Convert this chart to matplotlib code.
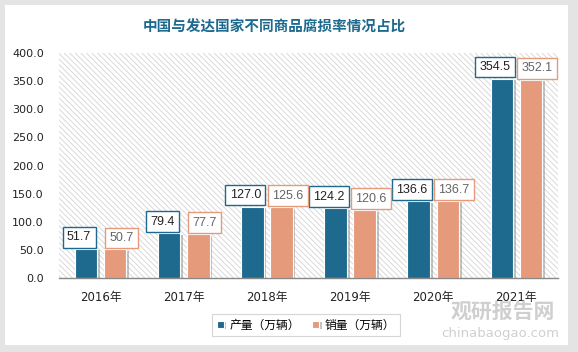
import matplotlib
matplotlib.use('Agg')
import matplotlib.pyplot as plt
import matplotlib.patches as mpatches
import matplotlib.patheffects as pe
import numpy as np

plt.rcParams['font.family'] = ['DejaVu Sans', 'Noto Sans CJK SC']
plt.rcParams['hatch.color'] = '#d4d4d4'
plt.rcParams['hatch.linewidth'] = 0.6

# data ##############################################################
years = ['2016年', '2017年', '2018年', '2019年', '2020年', '2021年']
output = [51.7, 79.4, 127.0, 124.2, 136.6, 354.5]
sales = [50.7, 77.7, 125.6, 120.6, 136.7, 352.1]
series_names = ['产量（万辆）', '销量（万辆）']

blue = '#1d6a8e'
orange = '#e59b7b'

fig = plt.figure(figsize=(5.78, 3.52), dpi=100)
fig.patch.set_facecolor('#e4e4e4')
# white card
card = mpatches.Rectangle((5 / 578, 7 / 352), 563 / 578, 340 / 352, transform=fig.transFigure,
                          facecolor='white', edgecolor='none', zorder=-10)
fig.patches.append(card)

ax = fig.add_axes([59 / 578, 1 - 278 / 352, 499 / 578, 225 / 352])
ax.set_facecolor('white')
bg = mpatches.Rectangle((0, 0), 1, 1, transform=ax.transAxes, facecolor='white',
                        edgecolor='#d4d4d4', linewidth=0, hatch='\\' * 6, zorder=0)
ax.add_patch(bg)

x = np.arange(len(years))
w = 0.27
off = 0.175
shadow = [pe.SimplePatchShadow(offset=(2, -1), shadow_rgbFace='#888888', alpha=0.5), pe.Normal()]
b1 = ax.bar(x - off, output, w, color=blue, edgecolor='white', linewidth=0.8, zorder=3,
            label=series_names[0], path_effects=shadow)
b2 = ax.bar(x + off, sales, w, color=orange, edgecolor='white', linewidth=0.8, zorder=3,
            label=series_names[1], path_effects=shadow)

lab_font = ['Liberation Sans', 'DejaVu Sans']
for xi, v in zip(x, output):
    ax.annotate('%.1f' % v, (xi - off, v), xytext=(-5, 4), textcoords='offset points',
                ha='center', va='bottom', fontsize=9, family=lab_font, color='#222222', zorder=5,
                bbox=dict(boxstyle='square,pad=0.35', facecolor='white', edgecolor=blue, linewidth=1))
for xi, v in zip(x, sales):
    ax.annotate('%.1f' % v, (xi + off, v), xytext=(4.5, 4), textcoords='offset points',
                ha='center', va='bottom', fontsize=9, family=lab_font, color='#666666', zorder=5,
                bbox=dict(boxstyle='square,pad=0.35', facecolor='white', edgecolor=orange, linewidth=1))

ax.set_xlim(-0.5, 5.5)
ax.set_ylim(0, 400)
ax.set_yticks(np.arange(0, 401, 50))
ax.set_yticklabels(['%.1f' % t for t in np.arange(0, 401, 50)])
ax.set_xticks(x)
ax.set_xticklabels(years)
ax.tick_params(axis='y', length=0, pad=11, labelsize=8, labelcolor='#222222')
ax.tick_params(axis='x', length=0, pad=9, labelsize=8.5, labelcolor='#222222')
for s in ['left', 'right', 'top']:
    ax.spines[s].set_visible(False)
ax.spines['bottom'].set_color('#888888')
ax.spines['bottom'].set_linewidth(1)
ax.spines['bottom'].set_zorder(4)

fig.text(274 / 578, 1 - 27 / 352, '中国与发达国家不同商品腐损率情况占比', ha='center', va='center',
         fontsize=10.5, fontweight='bold', color='#1d6a8e')

lg = fig.legend(handles=[b1, b2], loc='center', bbox_to_anchor=(306 / 578, 1 - 325 / 352), ncol=2,
                fontsize=8.5, frameon=True, fancybox=False, edgecolor='#cccccc',
                handlelength=0.6, handleheight=0.6, handletextpad=0.5, columnspacing=1.0,
                borderpad=0.4)
lg.get_frame().set_linewidth(0.8)

# watermark
fig.text(503 / 578, 1 - 312 / 352, '观研报告网', ha='center', va='center', fontsize=15,
         fontweight='bold', color='#c4c4c4', alpha=0.8)
fig.text(500 / 578, 1 - 333 / 352, 'chinabaogao.com', ha='center', va='center', fontsize=9.5,
         color='#c4c4c4', alpha=0.8)

fig.savefig('out.png', dpi=100, facecolor=fig.get_facecolor())
